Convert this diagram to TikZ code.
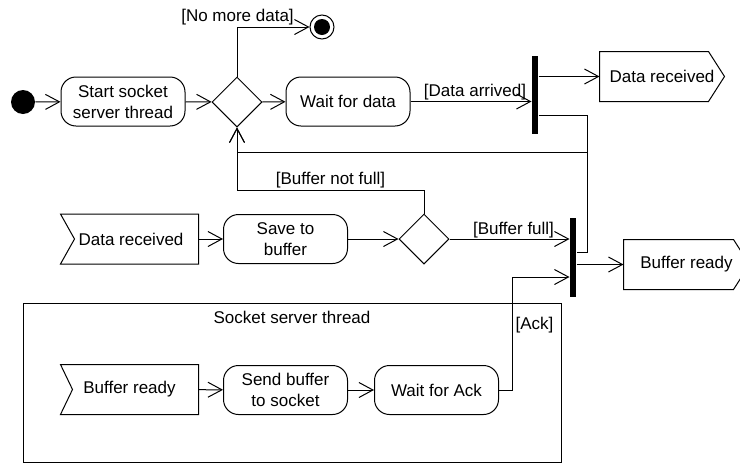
\documentclass[tikz,border=0pt]{standalone}
\usepackage{fontspec}
\setmainfont{Liberation Sans}
\usetikzlibrary{arrows.meta,shapes.geometric}
\begin{document}
\begin{tikzpicture}[x=1pt,y=-1pt,
  font=\fontsize{17}{21}\selectfont,
  line width=1pt,
  >={Straight Barb[length=14pt,width=15pt]},
  action/.style={draw, rounded corners=15pt, minimum width=124pt, minimum height=49pt, align=center, inner sep=0pt},
  decision/.style={draw, diamond, minimum width=50pt, minimum height=50pt, inner sep=0pt},
  bar/.style={fill=black, minimum width=6pt, inner sep=0pt},
  signal/.style={minimum height=49pt, inner sep=0pt},
  guard/.style={inner sep=0pt},
]
\path[use as bounding box, clip] (0,0) rectangle (740,464);

% top row: main loop
\node[circle, fill, minimum size=24pt, inner sep=0pt] (init) at (23,102) {};
\node[action] (start) at (123,101.5) {Start socket\\server thread};
\node[decision] (d1) at (237,102) {};
\node[action] (wait) at (348,101.5) {Wait for data};
\node[circle, draw, minimum size=24pt, inner sep=0pt] (final) at (322,27) {};
\fill (final.center) circle (8pt);
\node[bar, minimum height=78pt] (fork1) at (535,95) {};
\node[signal, minimum width=124pt] (sig1) at (662,76.5) {Data received};
\draw (sig1.north west) -- ([xshift=-16pt]sig1.north east) -- (sig1.east)
  -- ([xshift=-16pt]sig1.south east) -- (sig1.south west) -- cycle;

% middle row: buffering
\node[signal, minimum width=137pt] (acc1) at (129.5,239) {\hspace{3pt}Data received};
\draw (acc1.north west) -- (acc1.north east) -- (acc1.south east)
  -- (acc1.south west) -- ([xshift=14pt]acc1.west) -- cycle;
\node[action] (save) at (285.5,239) {Save to\\buffer};
\node[decision] (d2) at (424,239) {};
\node[bar, minimum height=79pt] (fork2) at (573,257.5) {};
\node[signal, minimum width=125pt] (sig2) at (686.5,264.5) {Buffer ready};
\draw (sig2.north west) -- ([xshift=-16pt]sig2.north east) -- (sig2.east)
  -- ([xshift=-16pt]sig2.south east) -- (sig2.south west) -- cycle;

% socket server thread partition
\node[draw, minimum width=538pt, minimum height=159pt, inner sep=0pt] (frame) at (292,382.5) {};
\node (framelbl) at (292,317) {Socket server thread};
\node[signal, minimum width=137pt] (acc2) at (129.5,389.5) {Buffer ready};
\draw (acc2.north west) -- (acc2.north east) -- (acc2.south east)
  -- (acc2.south west) -- ([xshift=12pt]acc2.west) -- cycle;
\node[action] (send) at (285.5,390) {Send buffer\\to socket};
\node[action] (ack) at (436.5,390) {Wait for Ack};

% routing points
\coordinate (f1out) at (587,115);
\coordinate (loopR) at (587,152);
\coordinate (busR) at (587,252);
\coordinate (nfcorner) at (237,190);
\coordinate (ackup) at (512,277);

% guards
\node[guard] (gNoMore) at (237.5,17) {[No more data]};
\node[guard] (gArrived) at (475,92) {[Data arrived]};
\node[guard] (gNotFull) at (330.5,180) {[Buffer not full]};
\node[guard] (gFull) at (513.5,230) {[Buffer full]};
\node[guard] (gAck) at (534.5,325) {[Ack]};

% flows
\draw[->] (init) -- (start);
\draw[->] (start) -- (d1);
\draw[->] (d1) -- (wait);
\draw[->] (d1.north) |- (final);
\draw[->] (wait) -- (wait -| fork1.west);
\draw[->] (fork1.east |- sig1) -- (sig1);
\draw (fork1.east |- f1out) -| (busR) -- (busR -| fork2.east);
\draw[->] (loopR) -| (d1.south);
\draw[->] (d2.north) |- (nfcorner) -- (d1.south);
\draw[->] (acc1) -- (save);
\draw[->] (save) -- (d2);
\draw[->] (d2) -- (d2 -| fork2.west);
\draw[->] (fork2.east |- sig2) -- (sig2);
\draw[->] (acc2) -- (send);
\draw[->] (send) -- (ack);
\draw[->] (ack.east) -| (ackup) -- (ackup -| fork2.west);
\end{tikzpicture}
\end{document}
